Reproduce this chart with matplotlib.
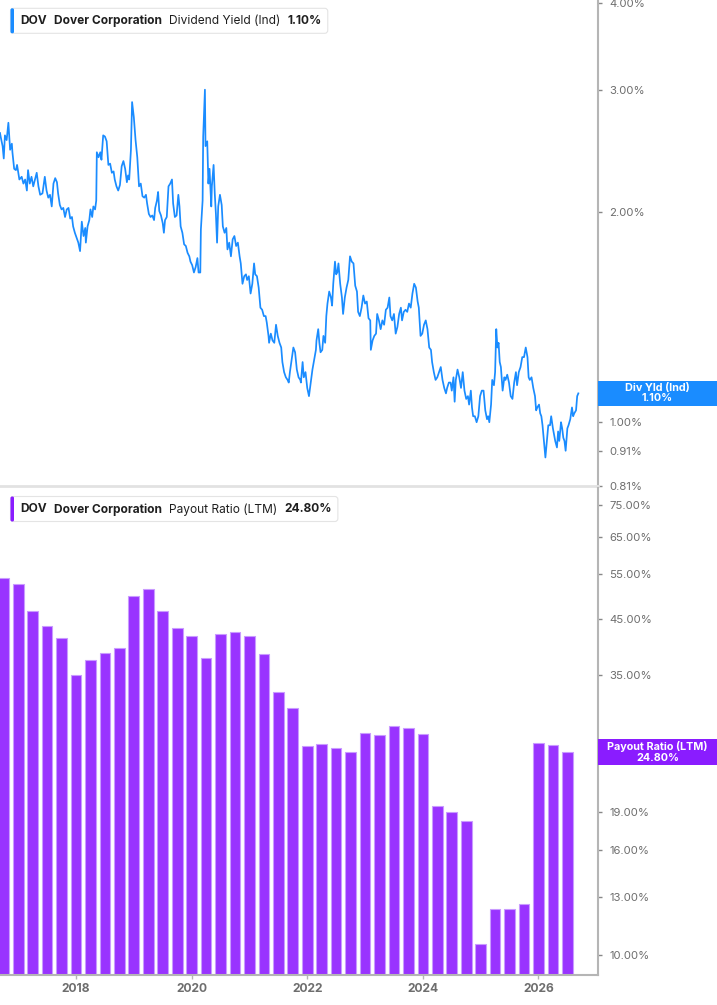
import matplotlib
matplotlib.use("Agg")
import matplotlib.pyplot as plt
from matplotlib.patches import FancyBboxPatch, Rectangle
from matplotlib.transforms import IdentityTransform
from matplotlib.ticker import FixedLocator, NullLocator, FuncFormatter

plt.rcParams['font.family'] = ['Inter', 'DejaVu Sans']

# ---- dividend yield (Ind), %, dates as decimal years
yld_dates = [
    2016.685, 2016.70, 2016.73, 2016.75, 2016.77, 2016.80, 2016.83, 2016.86, 2016.89, 2016.90,
    2016.93, 2016.96, 2016.98, 2017.02, 2017.06, 2017.09, 2017.12, 2017.15, 2017.17, 2017.20,
    2017.23, 2017.26, 2017.29, 2017.32, 2017.35, 2017.38, 2017.42, 2017.46, 2017.49, 2017.52,
    2017.55, 2017.58, 2017.61, 2017.64, 2017.67, 2017.69, 2017.72, 2017.75, 2017.78, 2017.81,
    2017.84, 2017.87, 2017.90, 2017.93, 2017.95, 2017.98, 2018.01, 2018.04, 2018.07, 2018.10,
    2018.13, 2018.16, 2018.17, 2018.20, 2018.23, 2018.25, 2018.28, 2018.30, 2018.33, 2018.35,
    2018.36, 2018.39, 2018.42, 2018.44, 2018.47, 2018.50, 2018.53, 2018.56, 2018.59, 2018.62,
    2018.65, 2018.67, 2018.70, 2018.73, 2018.76, 2018.79, 2018.82, 2018.85, 2018.88, 2018.90,
    2018.92, 2018.95, 2018.97, 2019.00, 2019.03, 2019.06, 2019.09, 2019.12, 2019.15, 2019.18,
    2019.21, 2019.23, 2019.26, 2019.29, 2019.32, 2019.35, 2019.37,
    2019.40, 2019.42, 2019.44, 2019.47, 2019.50, 2019.52, 2019.54, 2019.57, 2019.60, 2019.63,
    2019.66, 2019.68, 2019.71, 2019.74, 2019.77, 2019.79, 2019.81, 2019.84, 2019.87, 2019.90,
    2019.93, 2019.96, 2019.98, 2020.01, 2020.04, 2020.07, 2020.10, 2020.12, 2020.15, 2020.16,
    2020.19, 2020.20, 2020.23, 2020.24, 2020.27, 2020.29, 2020.31, 2020.34, 2020.35, 2020.38,
    2020.40, 2020.42, 2020.44, 2020.46, 2020.49, 2020.52, 2020.54, 2020.57, 2020.60, 2020.62,
    2020.65, 2020.68, 2020.71, 2020.74, 2020.77, 2020.80, 2020.83, 2020.85, 2020.88, 2020.91,
    2020.94, 2020.96, 2020.99, 2021.02, 2021.05, 2021.08, 2021.10, 2021.13, 2021.16, 2021.19,
    2021.22, 2021.25, 2021.28, 2021.30, 2021.33, 2021.34, 2021.37, 2021.40, 2021.43, 2021.46,
    2021.49, 2021.52, 2021.55, 2021.57, 2021.60, 2021.63, 2021.66, 2021.68, 2021.70, 2021.73,
    2021.76, 2021.79, 2021.82, 2021.85, 2021.88, 2021.89,
    2021.92, 2021.94, 2021.97, 2022.00, 2022.03, 2022.06, 2022.09, 2022.12, 2022.15, 2022.16,
    2022.19, 2022.21, 2022.23, 2022.26, 2022.28, 2022.31, 2022.33, 2022.35, 2022.38, 2022.41,
    2022.43, 2022.45, 2022.48, 2022.50, 2022.52, 2022.54, 2022.57, 2022.60, 2022.62, 2022.65,
    2022.68, 2022.71, 2022.74, 2022.77, 2022.80, 2022.83, 2022.86, 2022.88, 2022.91, 2022.94,
    2022.97, 2023.00, 2023.03, 2023.06, 2023.09, 2023.10, 2023.13, 2023.16, 2023.19, 2023.21,
    2023.24, 2023.27, 2023.30, 2023.33, 2023.36, 2023.39, 2023.42, 2023.44, 2023.47, 2023.50,
    2023.53, 2023.56, 2023.59, 2023.62, 2023.64, 2023.67, 2023.70, 2023.73, 2023.76, 2023.79,
    2023.82, 2023.85, 2023.88, 2023.91, 2023.93, 2023.96, 2023.99, 2024.02, 2024.05, 2024.08,
    2024.11, 2024.14, 2024.16, 2024.19, 2024.22, 2024.25, 2024.28, 2024.31, 2024.34, 2024.37,
    2024.40, 2024.42, 2024.45, 2024.48,
    2024.50, 2024.53, 2024.55, 2024.57, 2024.60, 2024.63, 2024.66, 2024.69, 2024.72, 2024.75,
    2024.78, 2024.80, 2024.83, 2024.85, 2024.87, 2024.90, 2024.93, 2024.96, 2024.99, 2025.02,
    2025.05, 2025.08, 2025.11, 2025.13, 2025.15, 2025.18, 2025.20, 2025.23, 2025.25, 2025.27,
    2025.29, 2025.31, 2025.33, 2025.35, 2025.38, 2025.41, 2025.43, 2025.46, 2025.49, 2025.52,
    2025.55, 2025.58, 2025.61, 2025.63, 2025.66, 2025.69, 2025.72, 2025.75, 2025.78, 2025.81,
    2025.83, 2025.85, 2025.88, 2025.91, 2025.94, 2025.96, 2025.98, 2026.01, 2026.03, 2026.05,
    2026.07, 2026.10, 2026.12, 2026.14, 2026.17, 2026.20, 2026.22, 2026.25, 2026.27, 2026.29,
    2026.32, 2026.34, 2026.36, 2026.39, 2026.41, 2026.43, 2026.45, 2026.47, 2026.50, 2026.52,
    2026.55, 2026.58, 2026.60, 2026.62, 2026.65, 2026.67, 2026.69,
]
yld_vals = [
    2.60, 2.56, 2.49, 2.39, 2.58, 2.54, 2.69, 2.46, 2.51, 2.44,
    2.31, 2.30, 2.34, 2.23, 2.25, 2.20, 2.23, 2.15, 2.30, 2.20,
    2.25, 2.18, 2.23, 2.28, 2.18, 2.12, 2.13, 2.25, 2.15, 2.10,
    2.12, 2.04, 2.20, 2.24, 2.21, 2.13, 2.05, 2.02, 2.03, 1.97,
    2.02, 2.03, 1.96, 1.97, 1.91, 1.87, 1.84, 1.81, 1.76, 1.94,
    1.85, 1.90, 1.81, 1.91, 1.95, 2.02, 1.97, 2.04, 2.02, 2.08,
    2.44, 2.40, 2.44, 2.38, 2.58, 2.57, 2.53, 2.34, 2.35, 2.28,
    2.29, 2.23, 2.18, 2.15, 2.19, 2.33, 2.37, 2.31, 2.21, 2.26,
    2.23, 2.46, 2.88, 2.74, 2.54, 2.40, 2.18, 2.20, 2.11, 2.10,
    2.12, 2.06, 1.99, 1.97, 1.98, 1.95, 2.03,
    2.08, 2.14, 2.01, 1.98, 1.93, 1.87, 1.95, 1.97, 2.18, 2.20,
    2.23, 2.06, 1.97, 1.98, 2.12, 2.04, 1.91, 1.87, 1.80, 1.79,
    1.75, 1.73, 1.70, 1.68, 1.64, 1.67, 1.72, 1.64, 1.64, 1.89,
    2.08, 2.57, 3.00, 2.49, 2.53, 2.20, 2.31, 2.04, 2.18, 2.34,
    2.13, 1.99, 1.81, 2.04, 2.12, 2.05, 1.91, 1.87, 1.90, 1.77,
    1.81, 1.73, 1.83, 1.85, 1.79, 1.81, 1.73, 1.69, 1.58, 1.62,
    1.63, 1.60, 1.62, 1.53, 1.58, 1.69, 1.63, 1.62, 1.56, 1.46,
    1.45, 1.42, 1.42, 1.39, 1.33, 1.30, 1.34, 1.31, 1.30, 1.38,
    1.33, 1.30, 1.28, 1.22, 1.18, 1.16, 1.15, 1.14, 1.18, 1.23,
    1.28, 1.26, 1.19, 1.16, 1.15, 1.14,
    1.22, 1.16, 1.18, 1.12, 1.09, 1.14, 1.19, 1.23, 1.27, 1.31,
    1.36, 1.30, 1.26, 1.27, 1.33, 1.30, 1.42, 1.48, 1.54, 1.51,
    1.47, 1.58, 1.70, 1.63, 1.64, 1.69, 1.58, 1.51, 1.43, 1.51,
    1.56, 1.60, 1.73, 1.70, 1.69, 1.57, 1.54, 1.44, 1.42, 1.46,
    1.52, 1.48, 1.49, 1.41, 1.40, 1.27, 1.31, 1.33, 1.34, 1.43,
    1.40, 1.36, 1.40, 1.38, 1.45, 1.46, 1.51, 1.42, 1.40, 1.43,
    1.34, 1.37, 1.43, 1.46, 1.40, 1.44, 1.45, 1.44, 1.48, 1.46,
    1.53, 1.58, 1.56, 1.49, 1.46, 1.33, 1.34, 1.38, 1.40, 1.36,
    1.28, 1.27, 1.22, 1.18, 1.15, 1.16, 1.18, 1.20, 1.15, 1.12,
    1.10, 1.12, 1.14, 1.14,
    1.11, 1.16, 1.07, 1.15, 1.19, 1.16, 1.12, 1.18, 1.11, 1.08,
    1.09, 1.06, 1.11, 1.05, 1.02, 1.02, 1.00, 1.02, 1.09, 1.11,
    1.11, 1.04, 1.01, 1.02, 1.00, 1.06, 1.15, 1.13, 1.18, 1.36,
    1.28, 1.30, 1.22, 1.20, 1.11, 1.16, 1.15, 1.17, 1.14, 1.09,
    1.08, 1.14, 1.18, 1.13, 1.18, 1.20, 1.24, 1.24, 1.28, 1.24,
    1.16, 1.15, 1.16, 1.12, 1.09, 1.04, 1.05, 1.06, 1.03, 1.02,
    0.99, 0.93, 0.89, 0.93, 0.99, 0.99, 1.02, 0.98, 0.96, 0.94,
    0.92, 0.97, 0.94, 1.00, 0.98, 0.95, 0.94, 0.91, 0.98, 0.99,
    1.01, 1.05, 1.02, 1.03, 1.04, 1.09, 1.10,
]

# ---- payout ratio (LTM), % per quarter
quarters = [
    "2016Q3", "2016Q4", "2017Q1", "2017Q2", "2017Q3", "2017Q4", "2018Q1", "2018Q2",
    "2018Q3", "2018Q4", "2019Q1", "2019Q2", "2019Q3", "2019Q4", "2020Q1", "2020Q2",
    "2020Q3", "2020Q4", "2021Q1", "2021Q2", "2021Q3", "2021Q4", "2022Q1", "2022Q2",
    "2022Q3", "2022Q4", "2023Q1", "2023Q2", "2023Q3", "2023Q4", "2024Q1", "2024Q2",
    "2024Q3", "2024Q4", "2025Q1", "2025Q2", "2025Q3", "2025Q4", "2026Q1", "2026Q2",
]
payout = [
    54.2, 52.7, 46.6, 43.7, 41.3, 35.0, 37.4, 38.7, 39.5, 49.8,
    51.6, 46.6, 43.2, 41.7, 37.8, 42.1, 42.4, 41.7, 38.5, 32.5,
    30.3, 25.5, 25.7, 25.3, 24.8, 27.0, 26.8, 27.9, 27.7, 26.9,
    19.5, 19.0, 18.2, 10.5, 12.3, 12.3, 12.6, 25.9, 25.6, 24.8,
]

yld_ticks = [0.81, 0.91, 1.00, 2.00, 3.00, 4.00]
pay_ticks = [10, 13, 16, 19, 25, 35, 45, 55, 65, 75]
pay_hidden = [25]          # label sits under the last-value tag
year_ticks = [2018, 2020, 2022, 2024, 2026]

W, H = 717, 1005
X0, X1 = 2016.685, 2027.03
BLUE = "#1a8cff"
PURPLE = "#9933ff"
TAGPURPLE = "#8a1cff"
AXC = "#b5b5b5"
LBL = "#6e6e6e"


def qend(q):
    # quarter label -> decimal year at quarter end
    return int(q[:4]) + int(q[-1]) / 4


fig = plt.figure(figsize=(W / 100, H / 100), dpi=100)
ax1 = fig.add_axes([0, 1 - 486 / H, 598 / W, 486 / H])
ax2 = fig.add_axes([0, 1 - 975 / H, 598 / W, (975 - 488) / H])

ax1.plot(yld_dates, yld_vals, color=BLUE, lw=1.25)
ax1.set_yscale('log')
ax1.set_ylim(0.81, 4.035)

ax2.set_yscale('log', nonpositive='clip')
ax2.bar([qend(q) for q in quarters], payout, width=0.185,
        color=PURPLE, edgecolor="#c99bff", linewidth=0.8)
ax2.set_ylim(9.156, 80.9)


def pct(v, p):
    if any(abs(v - h) < 1e-9 for h in pay_hidden):
        return ""
    return f"{v:.2f}%"


for ax, ticks in ((ax1, yld_ticks), (ax2, pay_ticks)):
    ax.set_xlim(X0, X1)
    ax.set_facecolor("white")
    ax.yaxis.tick_right()
    ax.yaxis.set_major_locator(FixedLocator(ticks))
    ax.yaxis.set_minor_locator(NullLocator())
    ax.yaxis.set_major_formatter(FuncFormatter(pct))
    ax.tick_params(axis='y', which='major', direction='out', length=3, width=1,
                   color="#888888", labelcolor=LBL, labelsize=8.2, pad=5)
    for s in ("top", "left"):
        ax.spines[s].set_visible(False)
    ax.spines["right"].set_color(AXC)
    ax.spines["right"].set_linewidth(1.5)

ax1.spines["bottom"].set_color("#e2e2e2")
ax1.spines["bottom"].set_linewidth(2)
ax1.tick_params(axis='x', bottom=False, labelbottom=False)

ax2.spines["bottom"].set_color(AXC)
ax2.spines["bottom"].set_linewidth(1.5)
ax2.xaxis.set_major_locator(FixedLocator(year_ticks))
ax2.xaxis.set_minor_locator(NullLocator())
ax2.xaxis.set_major_formatter(FuncFormatter(lambda v, p: f"{int(round(v))}"))
ax2.tick_params(axis='x', direction='out', length=3, width=1, color=AXC,
                labelcolor=LBL, labelsize=8.7, pad=3)
for t in ax2.get_xticklabels():
    t.set_fontweight('bold')

# ---- legend chips (pixel coordinates, y from top)
ident = IdentityTransform()
renderer = fig.canvas.get_renderer()


def chip(ytop, color, parts):
    x = 20.5
    yc = H - (ytop + 12.8)
    for s, w in parts:
        t = fig.text(x, yc, s, transform=ident, fontsize=8.6, fontweight=w,
                     color="#1f1f1f", va="center", ha="left", zorder=6)
        x = t.get_window_extent(renderer).x1 + 7
    right = x - 7 + 6
    fig.add_artist(FancyBboxPatch((10.5, H - ytop - 25), right - 10.5, 25,
                                  boxstyle="round,pad=0,rounding_size=3",
                                  transform=ident, fc="white", ec="#e4e4e4",
                                  lw=0.8, zorder=5))
    fig.add_artist(FancyBboxPatch((10.5, H - ytop - 25), 3.5, 25,
                                  boxstyle="round,pad=0,rounding_size=1.5",
                                  transform=ident, fc=color, ec="none", zorder=5.5))


chip(8.3, BLUE, [("DOV", "bold"), ("Dover Corporation", "bold"),
                 ("Dividend Yield (Ind)", "normal"), ("1.10%", "bold")])
chip(496.5, TAGPURPLE, [("DOV", "bold"), ("Dover Corporation", "bold"),
                        ("Payout Ratio (LTM)", "normal"), ("24.80%", "bold")])


# ---- last-value tags on the right axis
def tag(ytop, ybot, color, label):
    fig.add_artist(Rectangle((598, H - ybot), W - 598, ybot - ytop, transform=ident,
                             fc=color, ec="none", zorder=5))
    ym = (ytop + ybot) / 2
    fig.text(657.5, H - ym, label, transform=ident, fontsize=7.8, linespacing=1.05,
             fontweight="bold", color="white", ha="center", va="center",
             multialignment="center", zorder=6)


tag(380.5, 406, BLUE, "Div Yld (Ind)\n1.10%")
tag(739.3, 765, TAGPURPLE, "Payout Ratio (LTM)\n24.80%")

fig.savefig("out.png", dpi=100, facecolor="white")
